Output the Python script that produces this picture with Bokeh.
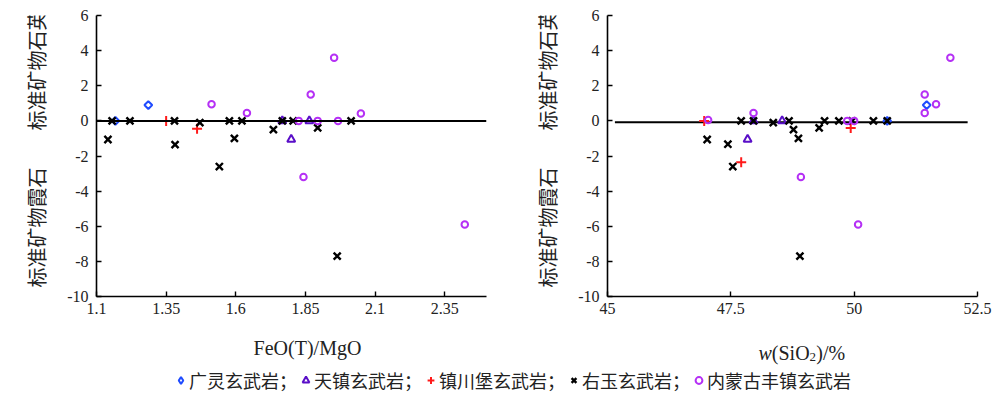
import math
from bokeh.plotting import figure
from bokeh.models import Range1d, FixedTicker, Span, Label, Legend, LegendItem
from bokeh.layouts import column, row
from bokeh.embed import file_html
from bokeh.resources import INLINE

# ---------------- data ----------------
# Left panel: x = FeO(T)/MgO, y = normative quartz (+) / nepheline (-)
gl_ratio = [1.168, 1.286]
gl_ratio_q = [0.0, 0.9]
tz_ratio = [1.767, 1.799, 1.864]
tz_ratio_q = [0.0, -1.05, 0.0]
zcb_ratio = [1.35, 1.461]
zcb_ratio_q = [0.0, -0.45]
yy_ratio = [1.141, 1.156, 1.220, 1.380, 1.382, 1.471, 1.541, 1.577,
            1.595, 1.622, 1.735, 1.767, 1.806, 1.894, 2.014, 1.964]
yy_ratio_q = [-1.06, 0.0, 0.0, 0.0, -1.35, -0.1, -2.6, 0.0,
              -1.0, 0.0, -0.5, 0.0, 0.0, -0.4, 0.0, -7.7]
fz_ratio = [1.513, 1.640, 1.826, 1.869, 1.894, 1.953, 1.967, 2.049, 1.843, 2.422]
fz_ratio_q = [0.95, 0.45, 0.0, 1.5, 0.0, 3.6, 0.0, 0.42, -3.2, -5.9]

# Right panel: x = w(SiO2)/%
gl_si = [50.67, 51.47]
gl_si_q = [0.0, 0.9]
tz_si = [47.84, 47.96, 48.54]
tz_si_q = [-1.05, 0.0, 0.0]
zcb_si = [46.96, 47.71, 49.93]
zcb_si_q = [0.0, -2.35, -0.4]
yy_si = [47.02, 47.44, 47.54, 47.71, 47.96, 48.36, 48.68, 48.77,
         48.87, 49.29, 49.40, 49.69, 49.96, 50.39, 50.67, 48.90]
yy_si_q = [-1.06, -1.33, -2.6, 0.0, 0.0, -0.1, 0.0, -0.5,
           -1.0, -0.4, 0.0, 0.0, 0.0, 0.0, 0.0, -7.7]
fz_si = [47.04, 47.96, 48.92, 49.86, 50.0, 51.43, 51.43, 51.66, 51.95, 50.08]
fz_si_q = [0.05, 0.45, -3.2, 0.0, 0.0, 1.5, 0.45, 0.95, 3.6, -5.9]

y_ticks = [-10, -8, -6, -4, -2, 0, 2, 4, 6]
y_labels = ["-10", "-8", "-6", "-4", "-2", "0", "2", "4", "6"]
x_ticks_ratio = [1.1, 1.35, 1.6, 1.85, 2.1, 2.35]
x_labels_ratio = ["1.1", "1.35", "1.6", "1.85", "2.1", "2.35"]
x_ticks_si = [45, 47.5, 50, 52.5]
x_labels_si = ["45", "47.5", "50", "52.5"]

series_names = ["广灵玄武岩；", "天镇玄武岩；", "镇川堡玄武岩；", "右玉玄武岩；", "内蒙古丰镇玄武岩"]
y_label_top = "标准矿物石英"
y_label_bottom = "标准矿物霞石"
x_label_left = "FeO(T)/MgO"

# ---------------- style ----------------
NUM_FONT = "Liberation Serif"
CJK_FONT = "Noto Sans CJK SC"
TXT = "#222222"
C_BLUE = "#1f4bff"
C_TRI = "#5a0fc8"
C_RED = "#ff1a1a"
C_BLACK = "#000000"
C_VIOLET = "#b530f5"

ROW_H = 324
TOP = 15
FRAME_H = 281
STRIP_H = 393 - ROW_H
ROT_SHIFT = 30  # rotated Label is drawn this far above its anchor


def blank_fig(w, h):
    f = figure(width=w, height=h, x_range=Range1d(0, 1), y_range=Range1d(0, 1),
               output_backend="svg", toolbar_location=None,
               min_border_left=0, min_border_right=0, min_border_top=0, min_border_bottom=0)
    f.axis.visible = False
    f.xgrid.visible = False
    f.ygrid.visible = False
    f.outline_line_color = None
    return f


def base_fig(xr, left, frame_w, right, ticks, labels):
    p = figure(width=left + frame_w + right, height=ROW_H,
               x_range=Range1d(*xr), y_range=Range1d(-10, 6),
               output_backend="svg", toolbar_location=None,
               min_border_left=left, min_border_right=right,
               min_border_top=TOP, min_border_bottom=ROW_H - TOP - FRAME_H)
    p.outline_line_color = None
    p.xgrid.visible = False
    p.ygrid.visible = False
    for ax in (p.xaxis[0], p.yaxis[0]):
        ax.axis_line_width = 1.6
        ax.axis_line_color = "black"
        ax.major_tick_line_width = 1.4
        ax.major_tick_in = 5
        ax.major_tick_out = 0
        ax.minor_tick_line_color = None
        ax.major_label_text_font = NUM_FONT
        ax.major_label_text_font_size = "16px"
        ax.major_label_text_color = TXT
    p.yaxis[0].ticker = FixedTicker(ticks=y_ticks)
    p.yaxis[0].major_label_overrides = {t: s for t, s in zip(y_ticks, y_labels)}
    p.yaxis[0].major_label_standoff = 8
    p.xaxis[0].ticker = FixedTicker(ticks=ticks)
    p.xaxis[0].major_label_overrides = {t: s for t, s in zip(ticks, labels)}
    p.xaxis[0].major_label_standoff = 6
    return p


def ylabel_fig(w, sx):
    f = blank_fig(w, ROW_H)
    # rotated text runs upward from its bottom end
    for txt, bottom_y in ((y_label_top, 128.0), (y_label_bottom, 285.0)):
        f.add_layout(Label(x=sx, y=ROW_H - bottom_y - ROT_SHIFT, x_units="screen",
                           y_units="screen", text=txt, angle=math.pi / 2,
                           text_align="left", text_baseline="middle", text_font=CJK_FONT,
                           text_font_size="20px", text_color=TXT))
    return f


def add_points(p, xs, ys, legend_proxy=False):
    (gx, gy), (tx, ty), (rx, ry), (kx, ky), (vx, vy) = list(zip(xs, ys))
    if legend_proxy:
        r_gl = p.scatter(gx, gy, marker="diamond", size=8, fill_color=None,
                         line_color=C_BLUE, line_width=2)
    else:
        r_gl = p.scatter(gx, gy, marker="square", angle=math.pi / 4, size=5.5,
                         fill_color=None, line_color=C_BLUE, line_width=2)
    r_tz = p.scatter(tx, ty, marker="triangle", size=8, fill_color=None,
                     line_color=C_TRI, line_width=2)
    r_zcb = p.scatter(rx, ry, marker="cross", size=10, line_color=C_RED, line_width=2)
    r_yy = p.scatter(kx, ky, marker="x", size=10, line_color=C_BLACK, line_width=2.4)
    r_fz = p.scatter(vx, vy, marker="circle", size=6.5, fill_color=None,
                     line_color=C_VIOLET, line_width=2)
    return [r_gl, r_tz, r_zcb, r_yy, r_fz]


# ---------------- left panel ----------------
yl1 = ylabel_fig(56, 36)
p1 = base_fig((1.1, 2.5), 40, 390, 14, x_ticks_ratio, x_labels_ratio)
p1.add_layout(Span(location=0, dimension="width", line_color="black", line_width=2))
add_points(p1, [gl_ratio, tz_ratio, zcb_ratio, yy_ratio, fz_ratio],
           [gl_ratio_q, tz_ratio_q, zcb_ratio_q, yy_ratio_q, fz_ratio_q])

# ---------------- right panel ----------------
yl2 = ylabel_fig(70, 47)
p2 = base_fig((45, 52.5), 37, 370, 15, x_ticks_si, x_labels_si)
p2.segment(x0=[45.15], y0=[-0.08], x1=[52.3], y1=[-0.08], line_color="black", line_width=2)
add_points(p2, [gl_si, tz_si, zcb_si, yy_si, fz_si],
           [gl_si_q, tz_si_q, zcb_si_q, yy_si_q, fz_si_q])

# ---------------- bottom strip: x-axis titles + legend ----------------
strip = blank_fig(992, STRIP_H)
strip.add_layout(Label(x=307, y=46, x_units="screen", y_units="screen", text=x_label_left,
                       text_align="center", text_baseline="alphabetic",
                       text_font=NUM_FONT, text_font_size="20px", text_color=TXT))
for txt, xo, yo, style, size in (("w", 758, 41, "italic", "20px"),
                                 ("(SiO", 771.3, 41, "normal", "20px"),
                                 ("2", 809.1, 37, "normal", "13px"),
                                 (")/%", 815.8, 41, "normal", "20px")):
    strip.add_layout(Label(x=xo, y=yo, x_units="screen", y_units="screen", text=txt,
                           text_align="left", text_baseline="alphabetic",
                           text_font=NUM_FONT, text_font_style=style,
                           text_font_size=size, text_color=TXT))
# legend proxies: first point of each series (outside this strip's ranges, so clipped)
leg_r = add_points(strip, [gl_si[:1], tz_si[:1], zcb_si[:1], yy_si[:1], fz_si[:1]],
                   [gl_si_q[:1], tz_si_q[:1], zcb_si_q[:1], yy_si_q[:1], fz_si_q[:1]],
                   legend_proxy=True)
legend = Legend(items=[LegendItem(label=n, renderers=[r]) for n, r in zip(series_names, leg_r)],
                orientation="horizontal", location=(172, 0),
                glyph_width=17, glyph_height=18, label_standoff=0, spacing=-6,
                padding=0, margin=0, border_line_color=None, background_fill_alpha=0,
                label_text_font=CJK_FONT, label_text_font_size="18px",
                label_text_color=TXT, label_height=18)
strip.add_layout(legend)

layout = column(row(yl1, p1, yl2, p2), strip)
open("out.html", "w").write(file_html(layout, INLINE))
